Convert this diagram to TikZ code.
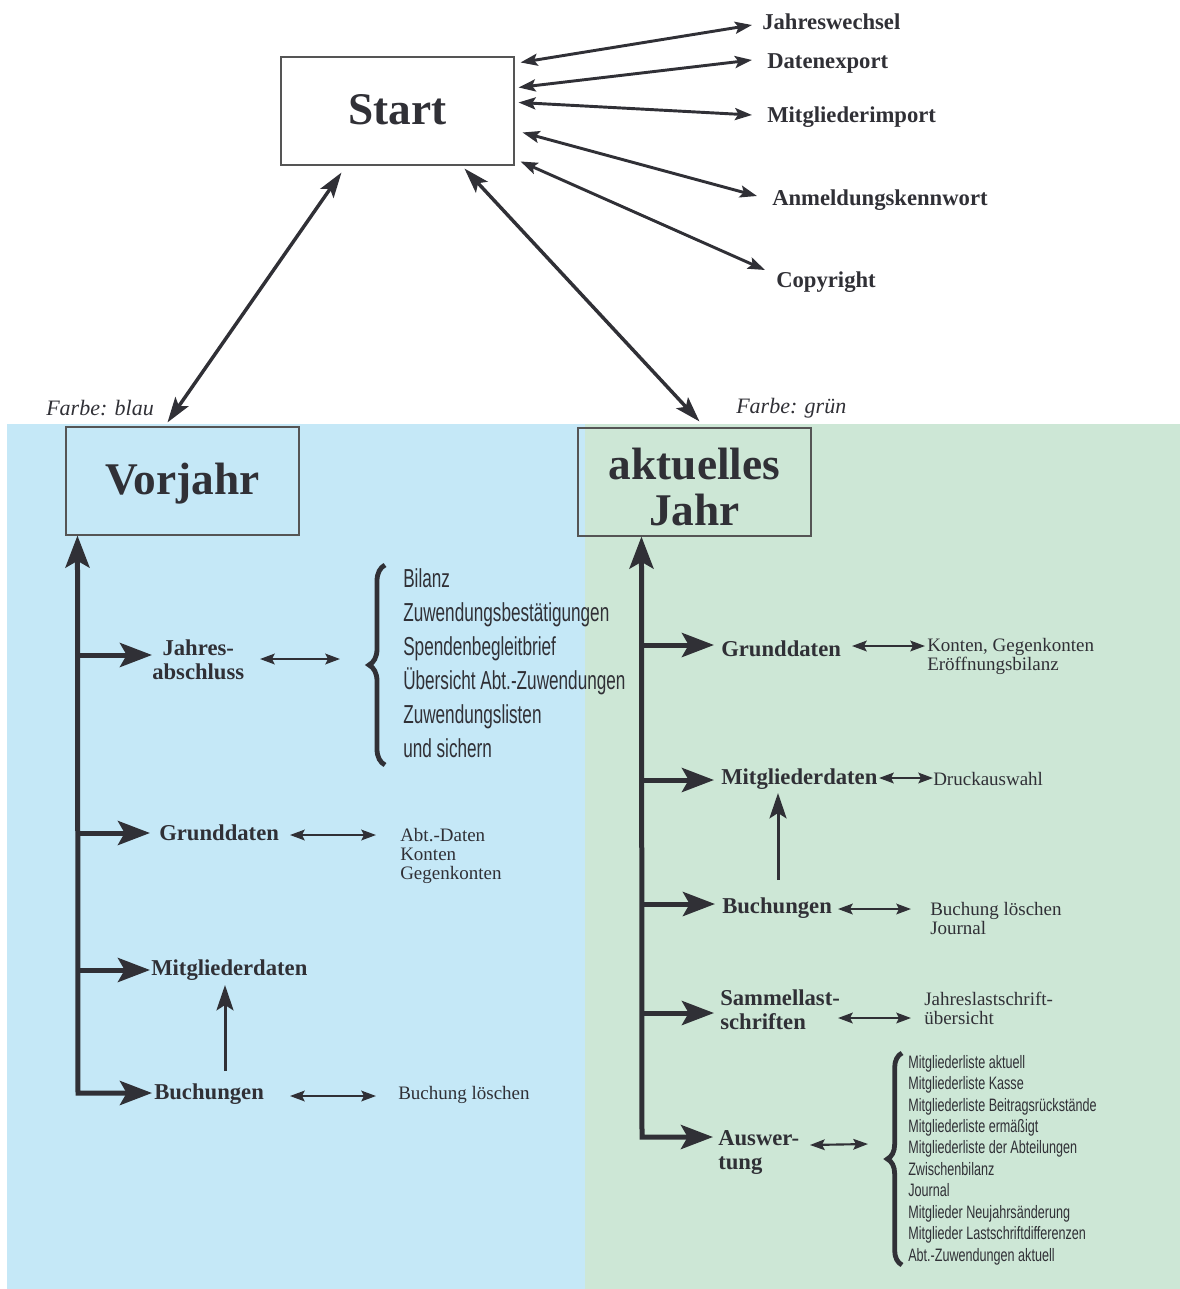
\documentclass[tikz,border=0pt]{standalone}
\usepackage{fontspec}
\setmainfont{Liberation Serif}
\newfontfamily\narrowA[FakeStretch=0.66]{Liberation Sans}
\newfontfamily\narrowB[FakeStretch=0.70]{Liberation Sans}
\usetikzlibrary{arrows.meta,decorations.pathreplacing}
\definecolor{ink}{HTML}{303036}
\definecolor{bgblue}{HTML}{C5E8F7}
\definecolor{bggreen}{HTML}{CDE7D6}
\definecolor{framecol}{HTML}{555555}
\begin{document}
\begin{tikzpicture}[x=0.75pt,y=-0.75pt,
  every node/.style={text=ink, inner sep=0pt},
  box/.style={draw=framecol, line width=0.8pt, minimum width=174.75pt, minimum height=81pt,
    align=center, font=\fontsize{34}{34.5}\selectfont\bfseries},
  lbl/.style={font=\fontsize{17}{18}\selectfont\bfseries, anchor=west},
  toplbl/.style={font=\fontsize{17}{18}\selectfont\bfseries, anchor=west},
  farbe/.style={font=\fontsize{16.5}{18}\selectfont\itshape, anchor=west},
  small/.style={font=\fontsize{14.25}{14.25}\selectfont, align=left, anchor=west},
  listA/.style={font=\fontsize{19.5}{25.5}\selectfont\narrowA, align=left, anchor=west},
  listB/.style={font=\fontsize{13.5}{16.1}\selectfont\narrowB, align=left, anchor=west},
  sarrow/.style={draw=ink, line width=2.2pt,
    {Stealth[length=12.75pt,width=9pt,inset=2.5pt]}-{Stealth[length=12.75pt,width=9pt,inset=2.5pt]}},
  darrow/.style={draw=ink, line width=2.6pt,
    {Stealth[length=19pt,width=12pt,inset=4pt]}-{Stealth[length=19pt,width=12pt,inset=4pt]}},
  spine/.style={draw=ink, line width=3.75pt,
    {Stealth[length=24pt,width=18pt,inset=5pt]}-{Stealth[length=24pt,width=18pt,inset=5pt]}},
  branch/.style={draw=ink, line width=3.75pt, -{Stealth[length=24pt,width=18pt,inset=5pt]}},
  uparrow/.style={draw=ink, line width=2.25pt, -{Stealth[length=19pt,width=12.75pt,inset=4pt]}},
  tiny/.style={draw=ink, line width=1.6pt,
    {Stealth[length=11pt,width=8pt,inset=2pt]}-{Stealth[length=11pt,width=8pt,inset=2pt]}},
  bracecurl/.style={draw=ink, line width=3.6pt, decorate},
]
\useasboundingbox (0,0) rectangle (1180,1289);
% backgrounds
\fill[bgblue] (7,424) rectangle (585,1289);
\fill[bggreen] (585,424) rectangle (1180,1289);

% main boxes
\node[box, text depth=3pt] (start) at (397.5,111) {Start};
\node[box, text height=27pt] (vj) at (182.5,481) {Vorjahr};
\node[box] (akt) at (694.5,482) {\rule{0pt}{31pt}aktuelles\\Jahr};

\node[farbe] (fb) at (46,408) {Farbe: blau};
\node[farbe] (fg) at (736,408) {Farbe: grün};

% top-right labels
\node[toplbl] (jw) at (762,22) {Jahreswechsel};
\node[toplbl] (de) at (767,63) {Datenexport};
\node[toplbl] (mi) at (767,117) {Mitgliederimport};
\node[toplbl] (ak) at (772,200) {Anmeldungskennwort};
\node[toplbl] (cp) at (776,282) {Copyright};

\draw[sarrow] ([shift={(6,6)}]start.north east) -- ([shift={(-10,3)}]jw.west);
\draw[sarrow] ([shift={(4,31)}]start.north east) -- ([shift={(-15,-3)}]de.west);
\draw[sarrow] ([shift={(4,46)}]start.north east) -- ([shift={(-15,-2)}]mi.west);
\draw[sarrow] ([shift={(8,76)}]start.north east) -- ([shift={(-15,-4)}]ak.west);
\draw[sarrow] ([shift={(6,105)}]start.north east) -- ([shift={(-11,-12)}]cp.west);

\draw[darrow] ([shift={(61,7)}]start.south west) -- ([shift={(102,-4)}]vj.north west);
\draw[darrow] ([shift={(184,3)}]start.south west) -- ([shift={(122,-6)}]akt.north west);

% ---------- left (Vorjahr) ----------
\node[lbl, align=center] (ljab) at (152,660) {Jahres-\\abschluss};
\node[lbl] (lgd) at (159,833) {Grunddaten};
\node[lbl] (lmd) at (151,970) {Mitgliederdaten};
\node[lbl] (lbu) at (154,1094) {Buchungen};

\node[listA] (ljabl) at (403,663) {Bilanz\\Zuwendungsbestätigungen\\Spendenbegleitbrief\\Übersicht Abt.-Zuwendungen\\Zuwendungslisten\\und sichern};
\node[small] (lgdt) at (400,856) {Abt.-Daten\\Konten\\Gegenkonten};
\node[small] (lbut) at (398,1095) {Buchung löschen};

\coordinate (lbot) at (78,1093);
\draw[spine] ([shift={(-2,-1)}]lbu.west) -- (lbot) -- ([shift={(12,0)}]vj.south west);
\draw[branch] ([shift={(-74,-5)}]ljab.west) -- ([shift={(0,-5)}]ljab.west);
\draw[branch] ([shift={(-81,0)}]lgd.west) -- ([shift={(-9,0)}]lgd.west);
\draw[branch] ([shift={(-73,0)}]lmd.west) -- ([shift={(-1,0)}]lmd.west);
\draw[uparrow] ([shift={(71,-23)}]lbu.west) -- ([shift={(74,15)}]lmd.west);

\draw[tiny] ([shift={(108,-1)}]ljab.west) -- ([shift={(-63,-4)}]ljabl.west);
\draw[tiny] ([shift={(131,2)}]lgd.west) -- ([shift={(-24,-21)}]lgdt.west);
\draw[tiny] ([shift={(136,2)}]lbu.west) -- ([shift={(-22,1)}]lbut.west);

\draw[bracecurl, decoration={brace, amplitude=12pt, aspect=0.5}]
  ([shift={(-18,102)}]ljabl.west) -- ([shift={(-18,-98)}]ljabl.west);

% ---------- right (aktuelles Jahr) ----------
\node[lbl] (rgd) at (721,649) {Grunddaten};
\node[lbl] (rmd) at (721,779) {Mitgliederdaten};
\node[lbl] (rbu) at (722,908) {Buchungen};
\node[lbl, align=left] (rsl) at (720,1010) {Sammellast-\\schriften};
\node[lbl, align=left] (rau) at (718,1153) {Auswer-\\tung};

\node[small] (rgdt) at (927,656) {Konten, Gegenkonten\\Eröffnungsbilanz};
\node[small] (rmdt) at (933,779) {Druckauswahl};
\node[small] (rbut) at (930,918) {Buchung löschen\\Journal};
\node[small] (rslt) at (924,1008) {Jahreslastschrift-\\übersicht};
\node[listB] (rlist) at (908,1160) {Mitgliederliste aktuell\\Mitgliederliste Kasse\\Mitgliederliste Beitragsrückstände\\Mitgliederliste ermäßigt\\Mitgliederliste der Abteilungen\\Zwischenbilanz\\Journal\\Mitglieder Neujahrsänderung\\Mitglieder Lastschriftdifferenzen\\Abt.-Zuwendungen aktuell};

\coordinate (rbot) at (642,1137);
\draw[spine] ([shift={(-5,-16)}]rau.west) -- (rbot) -- ([shift={(64,0)}]akt.south west);
\draw[branch] ([shift={(-79,-4)}]rgd.west) -- ([shift={(-7,-4)}]rgd.west);
\draw[branch] ([shift={(-79,1)}]rmd.west) -- ([shift={(-7,1)}]rmd.west);
\draw[branch] ([shift={(-80,-4)}]rbu.west) -- ([shift={(-7,-4)}]rbu.west);
\draw[branch] ([shift={(-78,3)}]rsl.west) -- ([shift={(-6,3)}]rsl.west);
\draw[uparrow] ([shift={(56,-28)}]rbu.west) -- ([shift={(57,14)}]rmd.west);

\draw[tiny] ([shift={(131,-3)}]rgd.west) -- ([shift={(-2,-10)}]rgdt.west);
\draw[tiny] ([shift={(158,-1)}]rmd.west) -- ([shift={(0,-1)}]rmdt.west);
\draw[tiny] ([shift={(116,1)}]rbu.west) -- ([shift={(-19,-9)}]rbut.west);
\draw[tiny] ([shift={(118,8)}]rsl.west) -- ([shift={(-13,10)}]rslt.west);
\draw[tiny] ([shift={(92,-8)}]rau.west) -- ([shift={(-40,-16)}]rlist.west);

\draw[bracecurl, decoration={brace, amplitude=11pt, aspect=0.5}]
  ([shift={(-6,105)}]rlist.west) -- ([shift={(-6,-107)}]rlist.west);
\end{tikzpicture}
\end{document}
